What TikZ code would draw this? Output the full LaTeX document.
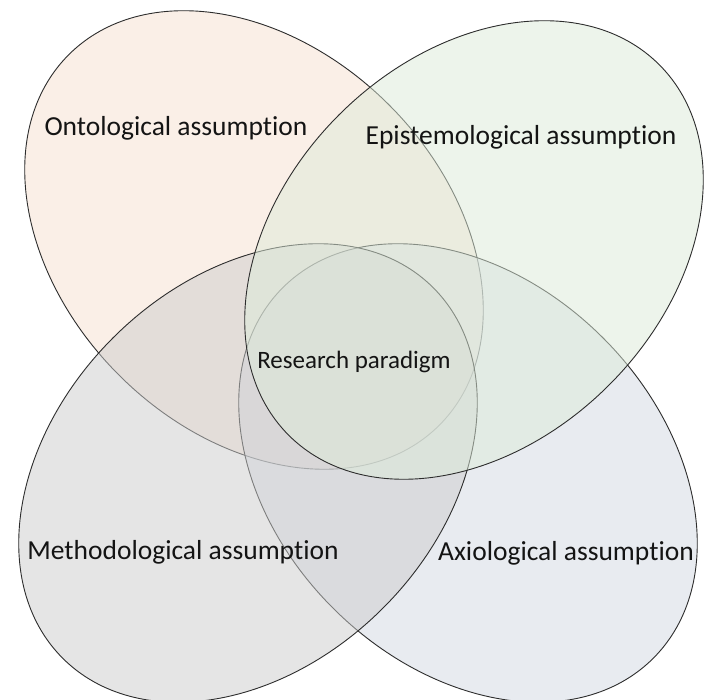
\documentclass[tikz,border=0pt]{standalone}
\usepackage{fontspec}
\setmainfont{Carlito}[Ligatures={NoCommon,NoRequired,NoContextual}]
\definecolor{ontoC}{RGB}{247,225,209}
\definecolor{epiC}{RGB}{221,235,217}
\definecolor{methC}{RGB}{205,205,205}
\definecolor{axiC}{RGB}{211,217,227}
\definecolor{edgeC}{RGB}{45,45,45}
\definecolor{txtC}{RGB}{20,20,20}
\tikzset{
  petal/.style={draw=edgeC, line width=0.9pt, fill opacity=0.5},
  lbl/.style={text=txtC, font=\fontsize{27.5}{33}\selectfont, inner sep=0pt},
  centrelbl/.style={text=txtC, font=\fontsize{25}{30}\selectfont, inner sep=0pt}
}
\begin{document}
\begin{tikzpicture}[x=1pt,y=1pt]
\useasboundingbox (0,0) rectangle (704,700);
\fill[white] (0,0) rectangle (704,700);
% Ontological (top-left)
\begin{scope}[rotate around={-45:(254,460)}]
  \path[petal, fill=ontoC] (254,460) ellipse [x radius=262, y radius=191];
\end{scope}
% Axiological (bottom-right)
\begin{scope}[rotate around={-45:(468,227)}]
  \path[petal, fill=axiC] (468,227) ellipse [x radius=262, y radius=191];
\end{scope}
% Methodological (bottom-left)
\begin{scope}[rotate around={45:(248,227)}]
  \path[petal, fill=methC] (248,227) ellipse [x radius=262, y radius=191];
\end{scope}
% Epistemological (top-right)
\begin{scope}[rotate around={45:(474,450)}]
  \path[petal, fill=epiC] (474,450) ellipse [x radius=262, y radius=191];
\end{scope}
\node[lbl] (onto) at (176,572) {Ontological assumption};
\node[lbl] (epi) at (521,563) {Epistemological assumption};
\node[centrelbl] (rp) at (354,338) {Research paradigm};
\node[lbl] (meth) at (183,148) {Methodological assumption};
\node[lbl] (axi) at (566,147) {Axiological assumption};
\end{tikzpicture}
\end{document}
